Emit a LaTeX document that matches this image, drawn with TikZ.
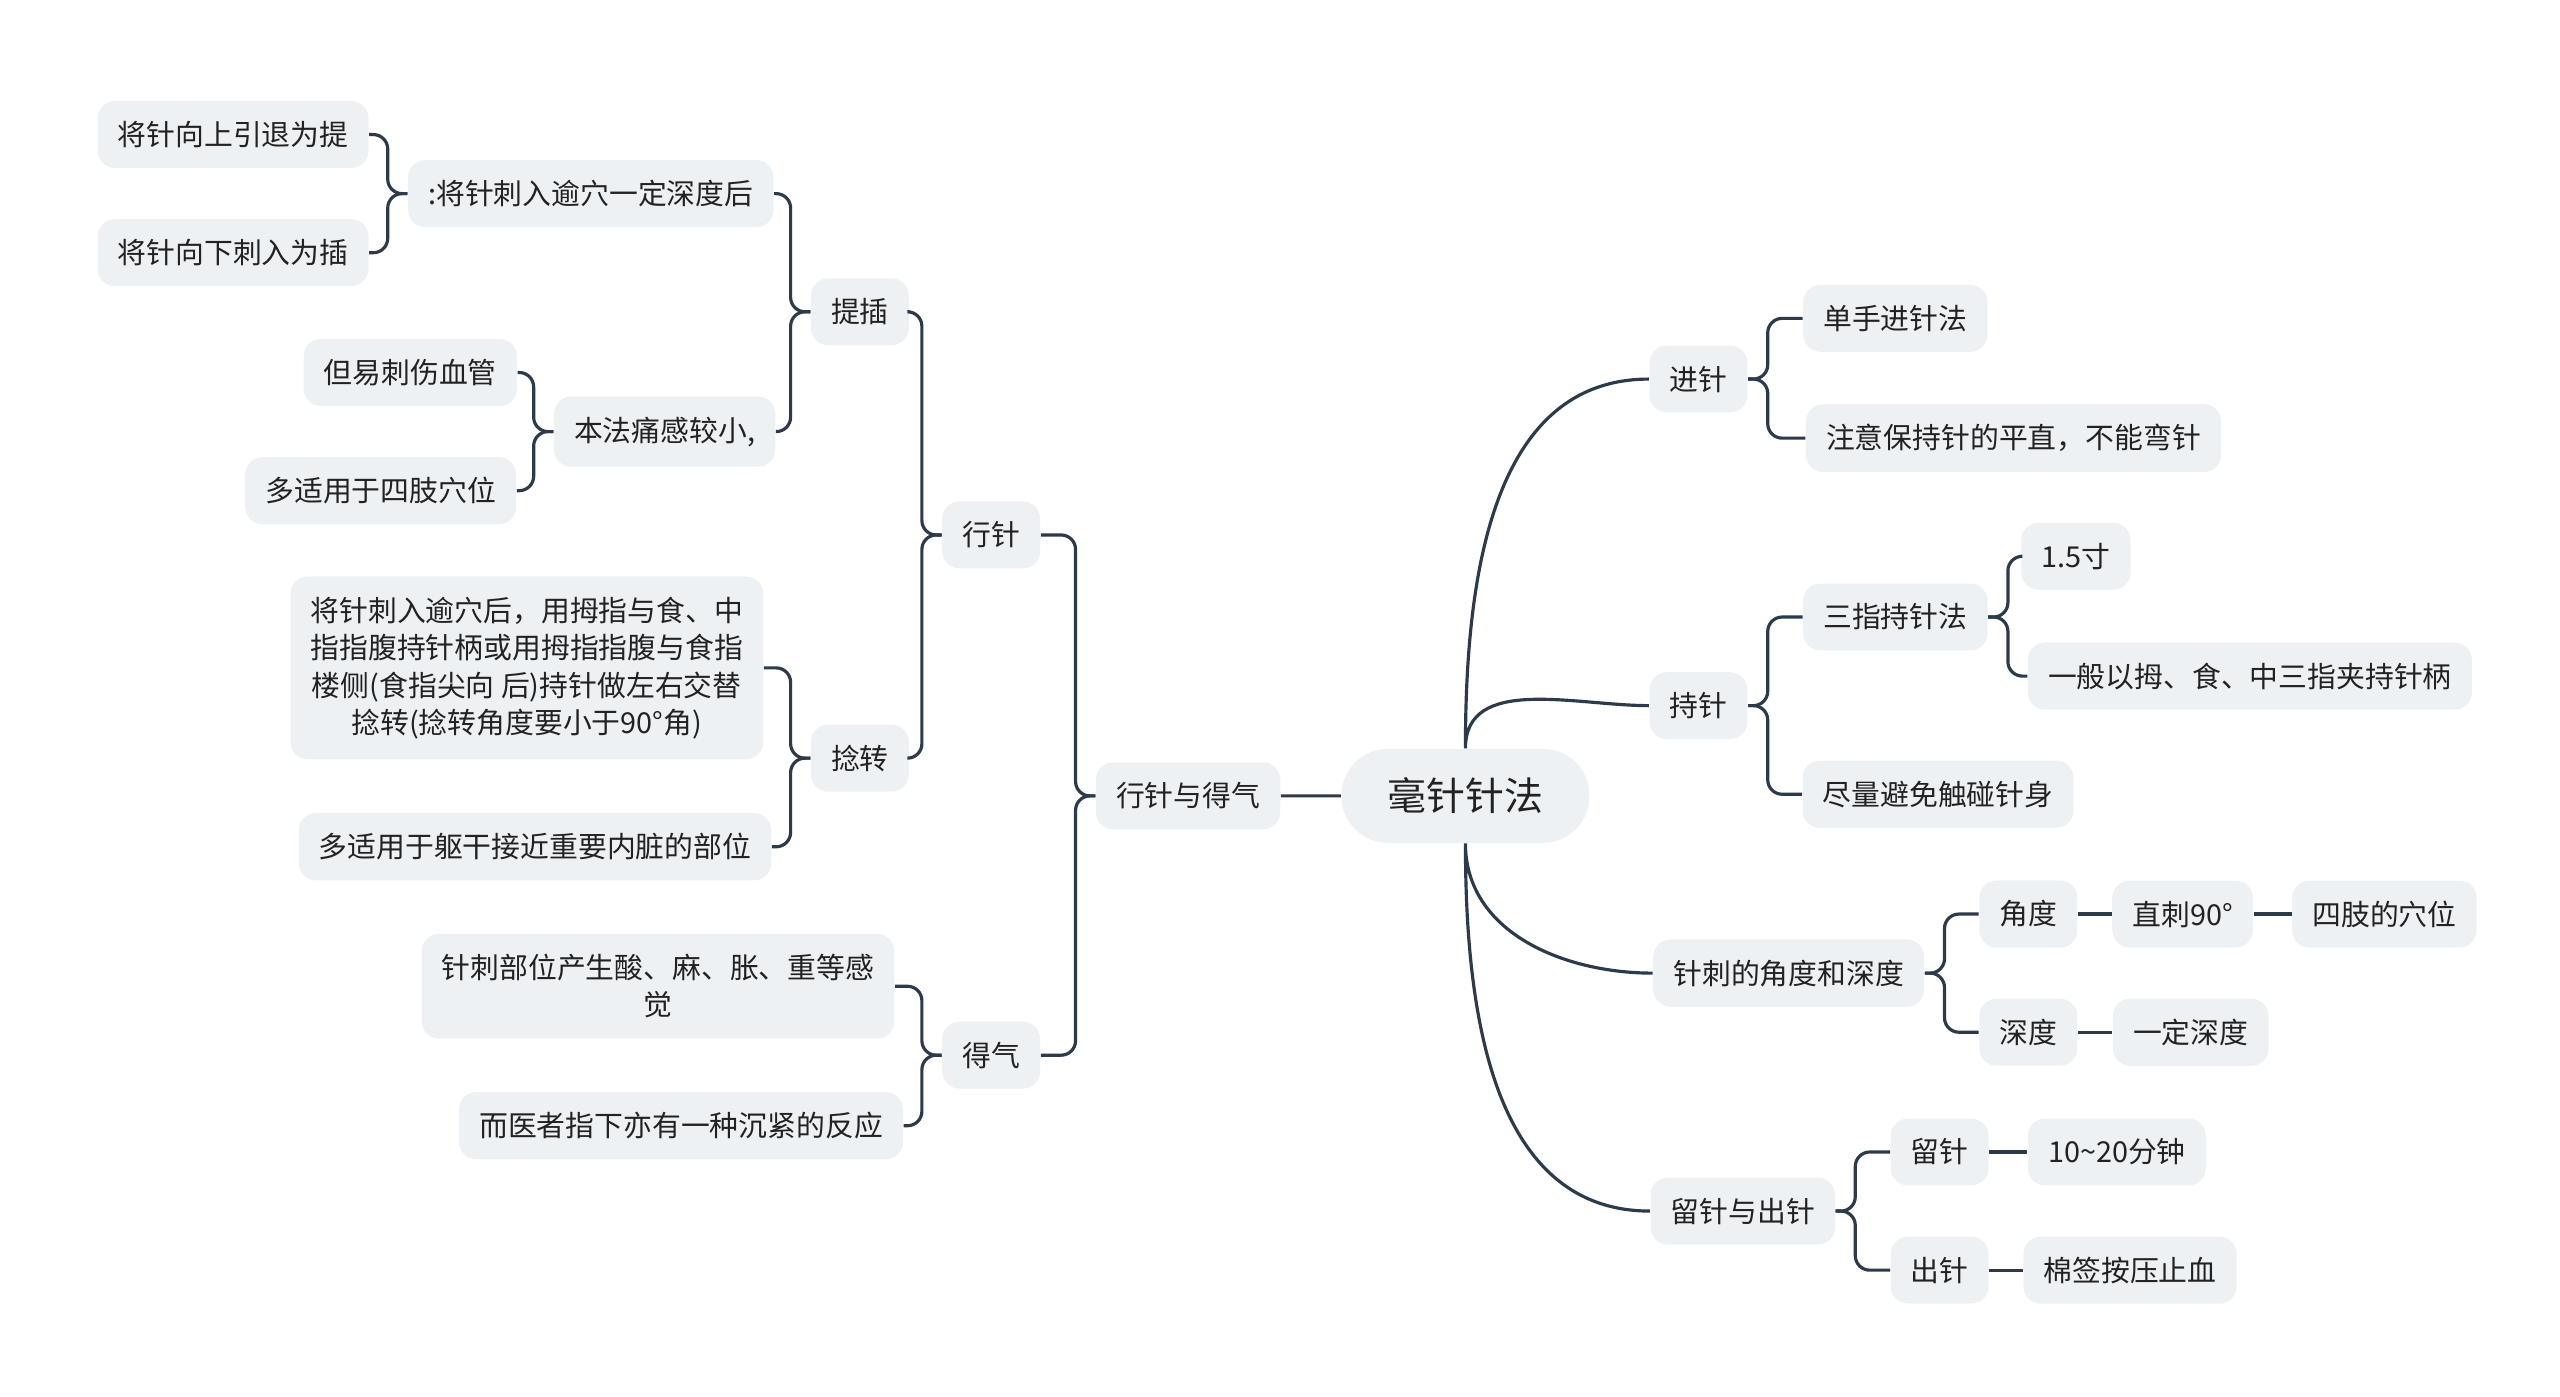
\documentclass[tikz,border=0pt]{standalone}
\usepackage{fontspec}
\setmainfont{Noto Sans CJK SC}
\usetikzlibrary{positioning}
\definecolor{boxfill}{HTML}{EEF1F4}
\definecolor{linecol}{HTML}{2D3A4A}
\definecolor{textcol}{HTML}{222222}

\begin{document}
\begin{tikzpicture}[x=0.02cm,y=-0.02cm]
  \tikzstyle{topic_style} = [fill=boxfill,rounded corners=6pt,text=textcol,font=\fontsize{10}{13}\selectfont,inner xsep=7pt,inner ysep=7pt,align=center]
  \tikzstyle{root_style} = [topic_style,rounded corners=16pt,font=\fontsize{13.5}{16}\selectfont,inner xsep=16pt,inner ysep=10pt]
  \tikzstyle{edge_style} = [draw=linecol,line width=1.1pt]
  \tikzstyle{bracket_style} = [edge_style,rounded corners=5pt]
  \useasboundingbox (0,0) rectangle (1560,851);

  % root
  \node[root_style]  (root)   at (893,485)  {毫针针法};

  % left side
  \node[topic_style] (xzdq)   at (724,485)  {行针与得气};
  \node[topic_style] (xz)     at (604,326)  {行针};
  \node[topic_style] (dq)     at (604,643)  {得气};
  \node[topic_style] (tc)     at (524,190)  {提插};
  \node[topic_style] (nz)     at (524,462)  {捻转};
  \node[topic_style] (tc1)    at (360,118)  {:将针刺入逾穴一定深度后};
  \node[topic_style] (tc2)    at (405,263)  {本法痛感较小,};
  \node[topic_style] (ti)     at (142,82)   {将针向上引退为提};
  \node[topic_style] (cha)    at (142,154)  {将针向下刺入为插};
  \node[topic_style] (xg)     at (250,227)  {但易刺伤血管};
  \node[topic_style] (sz)     at (232,299)  {多适用于四肢穴位};
  \node[topic_style] (nz1)    at (321,407)  {将针刺入逾穴后，用拇指与食、中\\指指腹持针柄或用拇指指腹与食指\\楼侧(食指尖向 后)持针做左右交替\\捻转(捻转角度要小于90°角)};
  \node[topic_style] (nz2)    at (326,516)  {多适用于躯干接近重要内脏的部位};
  \node[topic_style] (dq1)    at (401,601)  {针刺部位产生酸、麻、胀、重等感\\觉};
  \node[topic_style] (dq2)    at (415,686)  {而医者指下亦有一种沉紧的反应};

  % right side
  \node[topic_style] (jz)     at (1035,231) {进针};
  \node[topic_style] (jz1)    at (1155,194) {单手进针法};
  \node[topic_style] (jz2)    at (1227,267) {注意保持针的平直，不能弯针};
  \node[topic_style] (cz)     at (1035,430) {持针};
  \node[topic_style] (cz1)    at (1155,376) {三指持针法};
  \node[topic_style] (cun)    at (1265,339) {1.5寸};
  \node[topic_style] (jia)    at (1371,412) {一般以拇、食、中三指夹持针柄};
  \node[topic_style] (cz2)    at (1181,484) {尽量避免触碰针身};
  \node[topic_style] (jd)     at (1090,593) {针刺的角度和深度};
  \node[topic_style] (angle)  at (1236,557) {角度};
  \node[topic_style] (zc)     at (1330,557) {直刺90°};
  \node[topic_style] (szxw)   at (1453,557) {四肢的穴位};
  \node[topic_style] (depth)  at (1236,629) {深度};
  \node[topic_style] (ydsd)   at (1335,629) {一定深度};
  \node[topic_style] (lc)     at (1062,738) {留针与出针};
  \node[topic_style] (liu)    at (1182,702) {留针};
  \node[topic_style] (min)    at (1290,702) {10\textasciitilde 20分钟};
  \node[topic_style] (chu)    at (1182,774) {出针};
  \node[topic_style] (mq)     at (1298,774) {棉签按压止血};

  % main branches
  \path[edge_style]
    (root) -- (xzdq)
    (root.north) to[out=90,in=180] (jz.west)
    (root.north) to[out=90,in=180] (cz.west)
    (root.south) to[out=-90,in=180] (jd.west)
    (root.south) to[out=-90,in=180] (lc.west);

  % left brackets
  \foreach \p/\c in {xzdq/xz,xzdq/dq,xz/tc,xz/nz,tc/tc1,tc/tc2,tc1/ti,tc1/cha,
                     tc2/xg,tc2/sz,nz/nz1,nz/nz2,dq/dq1,dq/dq2}
    \draw[bracket_style] (\p.west) -- ++(-12,0) |- (\c.east);

  % right brackets
  \foreach \p/\c in {jz/jz1,jz/jz2,cz/cz1,cz/cz2,cz1/cun,cz1/jia,jd/angle,jd/depth,lc/liu,lc/chu}
    \draw[bracket_style] (\p.east) -- ++(12,0) |- (\c.west);

  \path[edge_style]
    (angle) -- (zc)
    (zc) -- (szxw)
    (depth) -- (ydsd)
    (liu) -- (min)
    (chu) -- (mq);
\end{tikzpicture}
\end{document}
